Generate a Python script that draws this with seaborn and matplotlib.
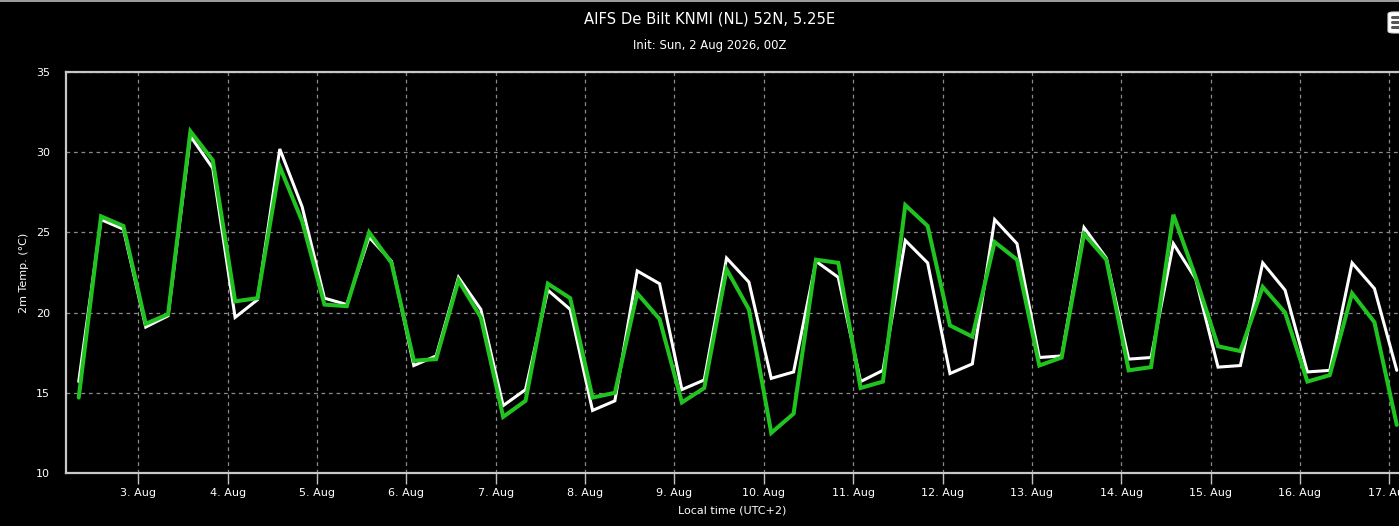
import matplotlib
matplotlib.use("Agg")
import matplotlib.pyplot as plt
import matplotlib.dates as mdates
from matplotlib.patches import FancyBboxPatch
from matplotlib.lines import Line2D
import numpy as np
import pandas as pd
import seaborn as sns

# ---------------- data ----------------
title_text = "AIFS De Bilt KNMI (NL) 52N, 5.25E"
subtitle_text = "Init: Sun, 2 Aug 2026, 00Z"
ylabel_text = "2m Temp. (°C)"
xlabel_text = "Local time (UTC+2)"

start_time = "2026-08-02 08:00"   # first step, local time
step = "6h"

white_series = [15.7, 25.8, 25.2, 19.1, 19.8, 31.0, 29.0, 19.7, 20.8, 30.2,
                26.6, 20.9, 20.5, 24.7, 23.2, 16.7, 17.3, 22.2, 20.2, 14.2,
                15.2, 21.4, 20.2, 13.9, 14.5, 22.6, 21.8, 15.2, 15.8, 23.4,
                21.9, 15.9, 16.3, 23.2, 22.2, 15.7, 16.4, 24.5, 23.1, 16.2,
                16.8, 25.8, 24.3, 17.2, 17.3, 25.3, 23.4, 17.1, 17.2, 24.3,
                22.1, 16.6, 16.7, 23.1, 21.4, 16.3, 16.4, 23.1, 21.5, 16.4]

green_series = [14.7, 26.0, 25.4, 19.3, 19.9, 31.3, 29.5, 20.7, 20.9, 29.1,
                25.7, 20.5, 20.4, 25.0, 23.1, 17.0, 17.1, 22.0, 19.7, 13.5,
                14.5, 21.8, 20.9, 14.7, 15.0, 21.2, 19.6, 14.4, 15.3, 22.7,
                20.2, 12.5, 13.7, 23.3, 23.1, 15.3, 15.7, 26.7, 25.4, 19.2,
                18.5, 24.4, 23.3, 16.7, 17.2, 24.9, 23.3, 16.4, 16.6, 26.1,
                22.2, 17.9, 17.6, 21.6, 20.0, 15.7, 16.1, 21.2, 19.4, 13.0]

tick_days = ["2026-08-03", "2026-08-04", "2026-08-05", "2026-08-06", "2026-08-07",
             "2026-08-08", "2026-08-09", "2026-08-10", "2026-08-11", "2026-08-12",
             "2026-08-13", "2026-08-14", "2026-08-15", "2026-08-16", "2026-08-17"]
tick_labels = ["3. Aug", "4. Aug", "5. Aug", "6. Aug", "7. Aug", "8. Aug", "9. Aug",
               "10. Aug", "11. Aug", "12. Aug", "13. Aug", "14. Aug", "15. Aug",
               "16. Aug", "17. Aug"]
y_ticks = [10, 15, 20, 25, 30, 35]

# ---------------- build frame ----------------
times = pd.date_range(start_time, periods=len(white_series), freq=step)
df = pd.DataFrame({
    "time": np.concatenate([times, times]),
    "temp": white_series + green_series,
    "series": ["white"] * len(white_series) + ["green"] * len(green_series),
})

sns.set_theme(style="dark")
plt.rcParams["font.family"] = ["DejaVu Sans"]

W, H = 1399, 526
fig = plt.figure(figsize=(W / 100, H / 100), dpi=100, facecolor="black")
ax = fig.add_axes([66 / W, 1 - 473 / H, 1 - 66 / W, (473 - 72) / H])
ax.set_facecolor("black")

sns.lineplot(data=df, x="time", y="temp", hue="series",
             palette={"white": "#ffffff", "green": "#20c320"},
             hue_order=["white", "green"], ax=ax, legend=False)
lines = ax.get_lines()
lines[0].set_linewidth(2.2)
lines[0].set_zorder(3)
lines[1].set_linewidth(2.9)
lines[1].set_zorder(4)
for ln in lines:
    ln.set_solid_joinstyle("miter")

# axes limits
x_left = pd.Timestamp("2026-08-02 04:35")
x_right = pd.Timestamp("2026-08-17 02:36")
ax.set_xlim(mdates.date2num(x_left), mdates.date2num(x_right))
ax.set_ylim(10, 35)

ax.set_xticks([mdates.date2num(pd.Timestamp(d)) for d in tick_days])
ax.set_xticklabels(tick_labels)
ax.set_yticks(y_ticks)
ax.set_yticklabels([str(v) for v in y_ticks])

ax.tick_params(axis="x", colors="#c0c0c0", labelsize=8, length=8, width=1,
               direction="out", pad=3, bottom=True, labelcolor="white")
ax.tick_params(axis="y", colors="white", labelsize=8, length=0, pad=11.5,
               labelcolor="white")

ax.grid(True, color="#8a8a8a", linestyle=(0, (3, 3)), linewidth=0.9)
ax.set_axisbelow(True)

for side in ["left", "bottom", "top"]:
    ax.spines[side].set_visible(True)
    ax.spines[side].set_color("#c8c8c8")
    ax.spines[side].set_linewidth(1.6)
ax.spines["right"].set_visible(False)

ax.set_xlabel(xlabel_text, color="white", fontsize=8, labelpad=5)
ax.set_ylabel(ylabel_text, color="white", fontsize=8, labelpad=5)

fig.text(710 / W, 1 - 19 / H, title_text, color="white", fontsize=10.6,
         ha="center", va="center")
fig.text(710 / W, 1 - 46 / H, subtitle_text, color="white", fontsize=8.4,
         ha="center", va="center")

# top border of the chart container
fig.add_artist(Line2D([0, 1], [1 - 0.5 / H, 1 - 0.5 / H], transform=fig.transFigure,
                      color="#bbbbbb", linewidth=1.2))

# menu button (partially cut off at the right edge)
btn = FancyBboxPatch((1388 / W, 1 - 33 / H), 20 / W, 21 / H,
                     boxstyle="round,pad=0,rounding_size=0.004",
                     transform=fig.transFigure, facecolor="white",
                     edgecolor="#dddddd", linewidth=0.8, clip_on=False)
fig.add_artist(btn)
for yy in [17, 22, 27]:
    fig.add_artist(Line2D([1392 / W, 1399 / W], [1 - yy / H, 1 - yy / H],
                          transform=fig.transFigure, color="#555555",
                          linewidth=2.2))

fig.savefig("out.png", dpi=100, facecolor="black")
